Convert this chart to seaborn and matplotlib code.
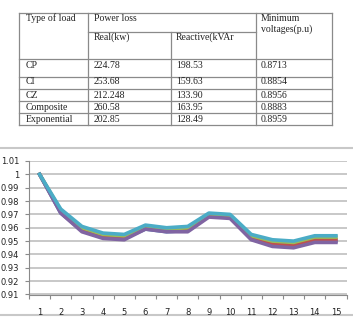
import matplotlib
matplotlib.use("Agg")
import matplotlib.pyplot as plt
import seaborn as sns
import pandas as pd
import numpy as np

# table contents
load_types = ["CP", "CI", "CZ", "Composite", "Exponential"]
real_loss = ["224.78", "253.68", "212.248", "260.58", "202.85"]
reactive_loss = ["198.53", "159.63", "133.90", "163.95", "128.49"]
min_voltage = ["0.8713", "0.8854", "0.8956", "0.8883", "0.8959"]

# voltage profile per bus, one list per series
buses = list(range(1, 16))
series_names = ["S1", "S2", "S3", "S4", "S5"]
v_s1 = [1.0, 0.971, 0.958, 0.953, 0.952, 0.959, 0.957, 0.958, 0.969, 0.968, 0.952, 0.947, 0.946, 0.950, 0.950]
v_s2 = [1.0, 0.972, 0.959, 0.954, 0.953, 0.960, 0.958, 0.959, 0.969, 0.968, 0.953, 0.948, 0.947, 0.951, 0.951]
v_s3 = [1.0, 0.973, 0.960, 0.955, 0.954, 0.961, 0.959, 0.960, 0.970, 0.969, 0.954, 0.950, 0.949, 0.953, 0.953]
v_s4 = [1.0, 0.971, 0.957, 0.952, 0.951, 0.959, 0.957, 0.957, 0.968, 0.967, 0.951, 0.946, 0.945, 0.949, 0.949]
v_s5 = [1.0, 0.974, 0.961, 0.956, 0.955, 0.962, 0.960, 0.961, 0.971, 0.970, 0.955, 0.951, 0.950, 0.954, 0.954]
colors = ["#4F81BD", "#C0504D", "#9BBB59", "#8064A2", "#4BACC6"]

W, H = 353, 327
fig = plt.figure(figsize=(W / 100, H / 100), dpi=100)

# ---- table drawn in pixel coords over the whole figure
tab = fig.add_axes([0, 0, 1, 1])
tab.set_xlim(0, W)
tab.set_ylim(H, 0)
tab.axis("off")

lc = "#8a8a8a"
cols = [19, 88, 171, 256, 332]
row_lines = [12.5, 59, 77, 89, 101, 113, 125]
for y in row_lines:
    tab.plot([cols[0], cols[-1]], [y, y], color=lc, lw=0.9)
tab.plot([cols[1], cols[3]], [32, 32], color=lc, lw=0.9)
for x in [cols[0], cols[1], cols[3], cols[4]]:
    tab.plot([x, x], [12.5, 125], color=lc, lw=0.9)
tab.plot([cols[2], cols[2]], [32, 125], color=lc, lw=0.9)

tfont = dict(family="Liberation Serif", fontsize=7, color="#222222", va="center", ha="left")
tab.text(26, 18.5, "Type of load", **tfont)
tab.text(94, 18.5, "Power loss", **tfont)
tab.text(261, 18.5, "Minimum", **tfont)
tab.text(261, 29, "voltages(p.u)", **tfont)
tab.text(94, 37.5, "Real(kw)", **tfont)
tab.text(176, 37.5, "Reactive(kVAr", **tfont)
row_y = [66, 82, 95, 107, 119]
for i, y in enumerate(row_y):
    tab.text(26, y, load_types[i], **tfont)
    tab.text(94, y, real_loss[i], **tfont)
    tab.text(176, y, reactive_loss[i], **tfont)
    tab.text(261, y, min_voltage[i], **tfont)

# frame lines around the chart
tab.plot([0, W], [148, 148], color="#c8c8c8", lw=1.5)
tab.plot([0, W], [315, 315], color="#c8c8c8", lw=1.5)

# ---- chart
df = pd.DataFrame({
    "bus": buses * 5,
    "voltage": v_s1 + v_s2 + v_s3 + v_s4 + v_s5,
    "series": sum([[n] * len(buses) for n in series_names], []),
})

ax = fig.add_axes([29 / W, (H - 294.5) / H, (346.5 - 29) / W, (294.5 - 161) / H])
sns.lineplot(data=df, x="bus", y="voltage", hue="series", palette=colors,
             linewidth=2.6, legend=False, ax=ax, zorder=3)

ax.set_xlim(0.5, 15.5)
ax.set_ylim(0.91, 1.01)
ax.set_yticks(np.arange(0.91, 1.0101, 0.01))
ax.set_yticklabels(["0.91", "0.92", "0.93", "0.94", "0.95", "0.96", "0.97",
                    "0.98", "0.99", "1", "1.01"])
ax.set_xticks(buses)
ax.set_xticks(np.arange(0.5, 15.6, 1), minor=True)
ax.set_xlabel("")
ax.set_ylabel("")
ax.grid(axis="y", color="#c4c4c4", lw=1.3, zorder=0)
ax.set_axisbelow(True)
for s in ["top", "right"]:
    ax.spines[s].set_visible(False)
ax.spines["left"].set_color("#8a8a8a")
ax.spines["bottom"].set_color("#8a8a8a")
ax.spines["left"].set_linewidth(0.8)
ax.spines["bottom"].set_linewidth(0.8)
ax.tick_params(axis="y", length=3, width=0.8, color="#8a8a8a", labelsize=6, pad=4, labelcolor="#222222")
ax.tick_params(axis="x", which="major", length=0, labelsize=6, pad=10, labelcolor="#222222")
ax.tick_params(axis="x", which="minor", length=3, width=0.8, color="#8a8a8a")
for lab in ax.get_xticklabels() + ax.get_yticklabels():
    lab.set_family("DejaVu Sans")

fig.savefig("out.png", dpi=100)
